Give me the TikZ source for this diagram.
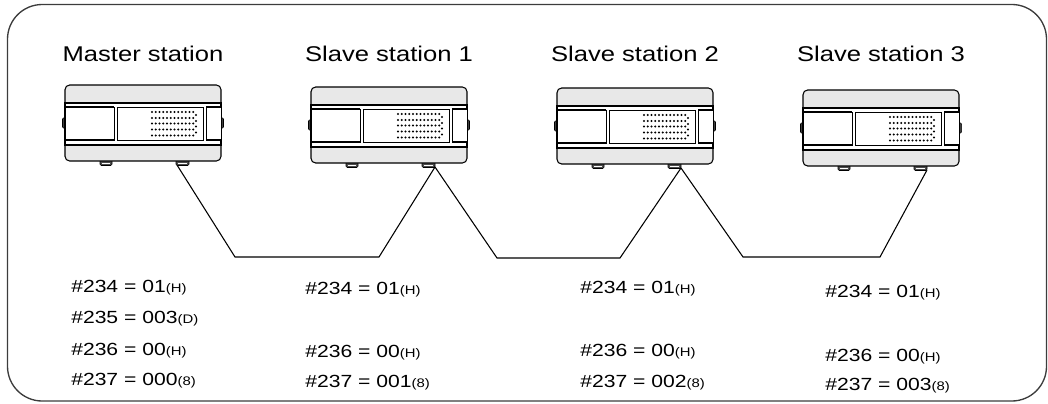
\documentclass[tikz,border=0pt]{standalone}
\usepackage{fontspec}
\setmainfont[FakeStretch=1.2]{Liberation Sans}
\usepackage{tikz}

\definecolor{casegray}{RGB}{232,232,232}
\definecolor{framegray}{RGB}{60,60,60}
\newcommand{\rdx}[1]{{\fontsize{9.3}{11}\selectfont(#1)}}

\tikzset{
  frame/.style={draw=framegray, line width=1pt, rounded corners=26pt},
  cable/.style={draw=black, line width=0.8pt, line join=miter},
  title/.style={anchor=base, inner sep=0.75pt, font=\fontsize{16}{19}\selectfont},
  reg/.style={anchor=base west, inner sep=0.75pt, font=\fontsize{13.2}{16}\selectfont},
  % one PLC unit, top left corner at the pic origin
  plc/.pic={
    %side tabs
    \draw[fill=black!75, rounded corners=0.8pt] (-2.5,33) rectangle (1,43);
    \draw[fill=black!75, rounded corners=0.8pt] (155,33) rectangle (158.5,43);
    %feet
    \draw[fill=black!70, rounded corners=1pt] (35,75) rectangle (47,80.5);
    \draw[fill=black!70, rounded corners=1pt] (111,75) rectangle (124,80.5);
    \draw[white, line width=0.5pt] (37,78) -- (45,78) (113,78) -- (122,78);
    %casing
    \draw[fill=casegray, line width=0.8pt, rounded corners=3.5pt] (0,0) rectangle (156,76);
    %front band
    \draw[fill=white, line width=0.8pt] (0,18) -- (156,18) -- (156,60) -- (0,60) -- cycle;
    \draw[fill=white, line width=0.6pt] (0,22) rectangle (49,55);
    \draw[line width=1.3pt] (0,22) -- (49,22) (0,55) -- (49,55);
    \draw[fill=white, line width=0.6pt] (52,22) rectangle (138,55);
    \draw[fill=white, line width=0.6pt] (141,22) rectangle (156,55);
    \draw[line width=1.3pt] (141,22) -- (156,22) (141,55) -- (156,55);
    %indicator dots
    \foreach \y in {27,33,38.5,44.5,50.5}
      \foreach \i in {0,...,11}
        \fill (87+3.75*\i,\y) circle (1.1);
    \foreach \y in {30,36,41.5,47.5}
      \fill (131,\y) circle (1.1);
    %cable ports
    \coordinate (-lport) at (112,80);
    \coordinate (-rport) at (124,80);
  }
}

\begin{document}
\begin{tikzpicture}[x=0.75pt,y=0.75pt,yscale=-1,xscale=1]
\useasboundingbox (0,0) rectangle (1048,403);

%Shape: Rounded Rect
\draw[frame] (7.5,4.5) rectangle (1046.5,401);

%Units
\pic[transform shape] (m) at (65,85) {plc};
\pic[transform shape] (s1) at (311,87) {plc};
\pic[transform shape] (s2) at (557,88) {plc};
\pic[transform shape] (s3) at (803,90) {plc};

%Cable bends
\coordinate (c1) at (235,257);
\coordinate (c2) at (379,257);
\coordinate (c3) at (497,258);
\coordinate (c4) at (620,258);
\coordinate (c5) at (743,257);
\coordinate (c6) at (880,257);

%Shape: Polyline
\draw[cable] (m-lport) -- (c1) -- (c2) -- (s1-rport) -- (c3) -- (c4) -- (s2-rport) -- (c5) -- (c6) -- (s3-rport);

% Text Node
\node[title] (tm) at (143,61) {Master station};
\node[title] (ts1) at (389,61) {Slave station 1};
\node[title] (ts2) at (635,61) {Slave station 2};
\node[title] (ts3) at (881,61) {Slave station 3};

% Text Node
\node[reg] (m234) at (70,292) {\#234 = 01\rdx{H}};
\node[reg] (m235) at (70,323) {\#235 = 003\rdx{D}};
\node[reg] (m236) at (70,355) {\#236 = 00\rdx{H}};
\node[reg] (m237) at (70,385) {\#237 = 000\rdx{8}};
% Text Node
\node[reg] (s1234) at (304,294) {\#234 = 01\rdx{H}};
\node[reg] (s1236) at (304,357) {\#236 = 00\rdx{H}};
\node[reg] (s1237) at (304,387) {\#237 = 001\rdx{8}};
% Text Node
\node[reg] (s2234) at (579,293) {\#234 = 01\rdx{H}};
\node[reg] (s2236) at (579,356) {\#236 = 00\rdx{H}};
\node[reg] (s2237) at (579,387) {\#237 = 002\rdx{8}};
% Text Node
\node[reg] (s3234) at (824,297) {\#234 = 01\rdx{H}};
\node[reg] (s3236) at (824,361) {\#236 = 00\rdx{H}};
\node[reg] (s3237) at (824,390) {\#237 = 003\rdx{8}};

\end{tikzpicture}
\end{document}
